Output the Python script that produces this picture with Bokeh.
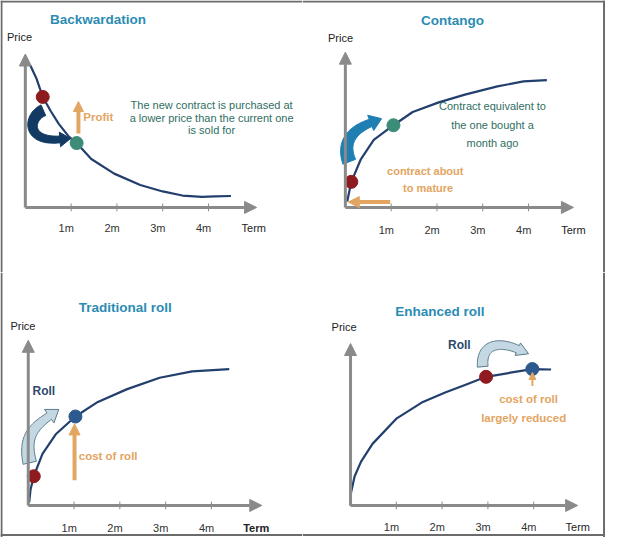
import numpy as np
from bokeh.plotting import figure
from bokeh.layouts import column, row
from bokeh.models import Arrow, NormalHead, Span, Range1d
from bokeh.core.properties import value
from bokeh.embed import file_html
from bokeh.resources import INLINE

# ---------------- data ----------------
tick_months = [1, 2, 3, 4]
tick_labels = ["1m", "2m", "3m", "4m"]

back_term = [0.11, 0.24, 0.38, 0.56, 0.73, 0.95, 1.12, 1.44, 1.94, 2.51, 3.00, 3.43, 3.86, 4.14, 4.49]
back_price = [3.11, 2.83, 2.42, 2.10, 1.83, 1.55, 1.41, 1.06, 0.74, 0.49, 0.35, 0.26, 0.23, 0.24, 0.25]
back_dot_term = [0.38, 1.12]
back_dot_price = [2.42, 1.41]

cont_term = [0.04, 0.13, 0.34, 0.62, 1.05, 1.47, 2.04, 2.61, 3.32, 3.89, 4.40]
cont_price = [0.13, 0.56, 1.06, 1.48, 1.80, 2.09, 2.30, 2.47, 2.65, 2.76, 2.79]
cont_dot_term = [0.13, 1.05]
cont_dot_price = [0.56, 1.80]

trad_term = [0.02, 0.05, 0.12, 0.31, 0.60, 1.03, 1.52, 2.16, 2.87, 3.58, 4.39]
trad_price = [0.07, 0.35, 0.64, 1.13, 1.56, 1.95, 2.27, 2.55, 2.80, 2.94, 2.99]
trad_dot_term = [0.12, 1.03]
trad_dot_price = [0.64, 1.95]

enh_term = [0.00, 0.01, 0.09, 0.23, 0.48, 1.01, 1.58, 2.08, 2.50, 2.96, 3.49, 3.97, 4.38]
enh_price = [0.00, 0.28, 0.64, 0.96, 1.35, 1.91, 2.27, 2.48, 2.64, 2.82, 2.91, 2.99, 2.98]
enh_dot_term = [2.96, 3.97]
enh_dot_price = [2.82, 2.99]

# ---------------- style ----------------
FONT = "Liberation Sans"
S = 47.0  # reference pixels per unit on both axes
AXIS = "#8a8a8a"
CURVE = "#233f6e"
TITLE = "#2b8cb3"
ORANGE = "#e3a562"
TEAL = "#2f6e62"
NAVY = "#2c4a6b"
RED = "#8e1b1f"
GREEN = "#3d8b79"
BLUE = "#2d5a8e"
BORDER = "#6b6b6b"


def make_panel(left, top, right, bottom, ox, oy, W, H):
    p = figure(width=W, height=H,
               x_range=Range1d((left - ox) / S, (right - ox) / S),
               y_range=Range1d((oy - bottom) / S, (oy - top) / S),
               x_axis_type=None, y_axis_type=None, toolbar_location=None,
               output_backend="svg", min_border=0, outline_line_color=None,
               background_fill_color="white", border_fill_color="white")

    def d(px, py):
        return (px - ox) / S, (oy - py) / S
    return p, d


def txt(p, d, px, py, s, size, color, bold=False, align="center"):
    x, y = d(px, py)
    p.text(x=[x], y=[y], text=[s], text_font=value(FONT), text_font_size=f"{size}px",
           text_color=color, text_font_style="bold" if bold else "normal",
           text_align=align, text_baseline="middle")


def axes(p, d, xtip, ytip, price_xy, term_xy, lab_dy, term_bold=False):
    p.add_layout(Arrow(end=NormalHead(size=12, fill_color=AXIS, line_color=AXIS),
                       x_start=0, y_start=0, x_end=0, y_end=ytip,
                       line_color=AXIS, line_width=3))
    p.add_layout(Arrow(end=NormalHead(size=12, fill_color=AXIS, line_color=AXIS),
                       x_start=0, y_start=0, x_end=xtip, y_end=0,
                       line_color=AXIS, line_width=3))
    p.segment(x0=tick_months, y0=[-4 / S] * 4, x1=tick_months, y1=[4 / S] * 4,
              line_color=AXIS, line_width=1)
    p.text(x=[m - 5 / S for m in tick_months], y=[-lab_dy / S] * 4, text=tick_labels,
           text_font=value(FONT), text_font_size="11px", text_color="#333333",
           text_align="center", text_baseline="middle")
    txt(p, d, price_xy[0], price_xy[1], "Price", 11, "#222222")
    txt(p, d, term_xy[0], term_xy[1], "Term", 11, "#222222", bold=term_bold)


def curve(p, xs, ys, dx, dy, dot_colors):
    p.line(xs, ys, line_color=CURVE, line_width=2.2, line_join="round")
    p.scatter(dx, dy, marker="circle", size=13, fill_color=dot_colors,
              line_color=dot_colors, line_width=1)


def block_arrow(p, P, w0, w1, hw, hl, fill, line, lw=1.0):
    P = np.array(P, dtype=float)
    t = np.linspace(0, 1, 40)[:, None]
    B = ((1 - t) ** 3) * P[0] + 3 * ((1 - t) ** 2) * t * P[1] + 3 * (1 - t) * t ** 2 * P[2] + t ** 3 * P[3]
    dB = 3 * ((1 - t) ** 2) * (P[1] - P[0]) + 6 * (1 - t) * t * (P[2] - P[1]) + 3 * t ** 2 * (P[3] - P[2])
    T = dB / np.linalg.norm(dB, axis=1)[:, None]
    N = np.column_stack([-T[:, 1], T[:, 0]])
    w = (w0 + (w1 - w0) * t) / 2 / S
    L = B + N * w
    R = B - N * w
    e, Te, Ne = B[-1], T[-1], N[-1]
    head = [e + Ne * hw / 2 / S, e + Te * hl / S, e - Ne * hw / 2 / S]
    xs = list(L[:, 0]) + [h[0] for h in head] + list(R[::-1, 0])
    ys = list(L[:, 1]) + [h[1] for h in head] + list(R[::-1, 1])
    p.patch(xs, ys, fill_color=fill, line_color=line, line_width=lw)


def straight_arrow(p, d, a, b, color, width, size):
    x0, y0 = d(*a)
    x1, y1 = d(*b)
    p.add_layout(Arrow(end=NormalHead(size=size, fill_color=color, line_color=color),
                       x_start=x0, y_start=y0, x_end=x1, y_end=y1,
                       line_color=color, line_width=width))


def border(p, d, sides):
    for s, ref in sides:
        if s in ("left", "right"):
            p.add_layout(Span(location=d(ref, 0)[0], dimension="height", line_color=BORDER, line_width=2))
        else:
            p.add_layout(Span(location=d(0, ref)[1], dimension="width", line_color=BORDER, line_width=2))


# ---------------- panel 1: Backwardation ----------------
p1, d1 = make_panel(0, 0, 310, 280, 25.5, 213, 302, 272)
axes(p1, d1, 5.05, 3.36, (19.5, 38), (260, 234), 21)
block_arrow(p1, [d1(44, 113), d1(28, 120), d1(26, 146), d1(61, 143)],
            12, 7, 15, 11, "#133a63", "#133a63")
curve(p1, back_term, back_price, back_dot_term, back_dot_price, [RED, GREEN])
straight_arrow(p1, d1, (80, 137), (80, 104), ORANGE, 4, 10)
txt(p1, d1, 100, 20, "Backwardation", 13.5, TITLE, bold=True)
txt(p1, d1, 85, 120, "Profit", 11.5, ORANGE, bold=True, align="left")
for yy, line_ in zip([108, 120.5, 133], ["The new contract is purchased at",
                                          "a lower price than the current one",
                                          "is sold for"]):
    txt(p1, d1, 216.7, yy, line_, 11, TEAL)
border(p1, d1, [("left", 1), ("top", 1)])

# ---------------- panel 2: Contango ----------------
p2, d2 = make_panel(310, 0, 621, 280, 354, 213, 303, 272)
axes(p2, d2, 4.98, 3.40, (349, 39), (588, 236.5), 23)
block_arrow(p2, [d2(358, 166), d2(350, 145), d2(362, 133), d2(380, 126)],
            14, 8, 17, 12, "#1f7fb2", "#1f7fb2")
curve(p2, cont_term, cont_price, cont_dot_term, cont_dot_price, [RED, GREEN])
straight_arrow(p2, d2, (400, 207.5), (357, 207.5), ORANGE, 4, 11)
txt(p2, d2, 464, 21, "Contango", 13.5, TITLE, bold=True)
for yy, line_ in zip([108.3, 128.3, 146.7], ["Contract equivalent to", "the one bought a", "month ago"]):
    txt(p2, d2, 505, yy, line_, 11, TEAL)
txt(p2, d2, 436, 175, "contract about", 11, ORANGE, bold=True)
txt(p2, d2, 439, 193.3, "to mature", 11, ORANGE, bold=True)
border(p2, d2, [("top", 1), ("right", 619.5)])

# ---------------- panel 3: Traditional roll ----------------
p3, d3 = make_panel(0, 280, 310, 553, 28.5, 520, 302, 265)
axes(p3, d3, 5.10, 3.62, (23, 335), (262.5, 543), 23, term_bold=True)
block_arrow(p3, [d3(30, 476), d3(24, 450), d3(33, 440), d3(50, 428)],
            14, 8, 17, 12, "#c3d8e3", "#5d7a8a")
curve(p3, trad_term, trad_price, trad_dot_term, trad_dot_price, [RED, BLUE])
straight_arrow(p3, d3, (76, 494), (76, 436), ORANGE, 4, 11)
txt(p3, d3, 128, 316, "Traditional roll", 13.5, TITLE, bold=True)
txt(p3, d3, 44.5, 402, "Roll", 12, NAVY, bold=True)
txt(p3, d3, 110.5, 469, "cost of roll", 11.5, ORANGE, bold=True)
border(p3, d3, [("left", 1), ("bottom", 550.5)])

# ---------------- panel 4: Enhanced roll ----------------
p4, d4 = make_panel(310, 280, 621, 553, 359.3, 520, 303, 265)
axes(p4, d4, 4.96, 3.55, (352.7, 335.7), (592.5, 542), 22)
block_arrow(p4, [d4(495, 377), d4(493, 355), d4(510, 350), d4(531, 359)],
            11, 8, 14, 12, "#c3d8e3", "#5d7a8a")
curve(p4, enh_term, enh_price, enh_dot_term, enh_dot_price, [RED, BLUE])
straight_arrow(p4, d4, (546, 397), (546, 383), ORANGE, 2, 7)
txt(p4, d4, 451, 320, "Enhanced roll", 13.5, TITLE, bold=True)
txt(p4, d4, 471, 355, "Roll", 12, NAVY, bold=True)
txt(p4, d4, 542, 410, "cost of roll", 11.5, ORANGE, bold=True)
txt(p4, d4, 537, 430, "largely reduced", 11.5, ORANGE, bold=True)
border(p4, d4, [("right", 619.5), ("bottom", 550.5)])

layout = column(row(p1, p2), row(p3, p4))
open("out.html", "w").write(file_html(layout, INLINE))
